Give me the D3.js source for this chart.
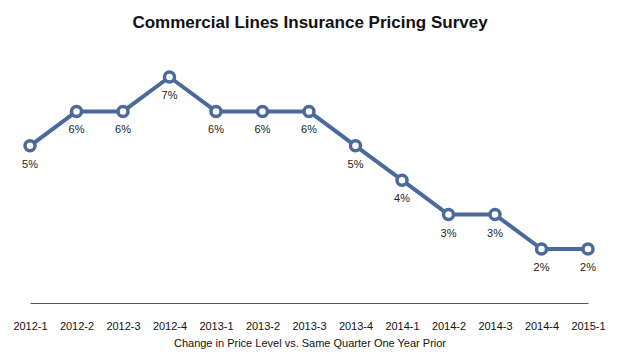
<!DOCTYPE html>
<html>
<head>
<meta charset="utf-8">
<script src="https://cdn.jsdelivr.net/npm/d3@7"></script>
<style>
  html, body { margin: 0; padding: 0; background: #fff; }
  svg { display: block; font-family: "Liberation Sans", Arial, Helvetica, sans-serif; }
</style>
</head>
<body>
<div id="chart"></div>
<script>
// Chart data
const quarters = ["2012-1", "2012-2", "2012-3", "2012-4", "2013-1", "2013-2", "2013-3",
                  "2013-4", "2014-1", "2014-2", "2014-3", "2014-4", "2015-1"];
const priceChange = [5, 6, 6, 7, 6, 6, 6, 5, 4, 3, 3, 2, 2];
const valueLabels = priceChange.map(d => `${d}%`);

const title = "Commercial Lines Insurance Pricing Survey";
const xTitle = "Change in Price Level vs. Same Quarter One Year Prior";

const width = 620, height = 352;
const lineColor = "#4b6a9b";
const axisY = 303;

const svg = d3.select("#chart")
  .append("svg")
  .attr("width", width)
  .attr("height", height);

const x = d3.scalePoint()
  .domain(quarters)
  .range([30, 588]);

const y = d3.scaleLinear()
  .domain([2, 7])
  .range([249, 77]);

svg.append("text")
  .attr("x", width / 2)
  .attr("y", 28)
  .attr("text-anchor", "middle")
  .style("font-size", "17px")
  .style("font-weight", "bold")
  .style("fill", "#111")
  .text(title);

// x axis
const xAxis = d3.axisBottom(x).tickSize(0).tickPadding(19);
const gx = svg.append("g")
  .attr("class", "x-axis")
  .attr("transform", `translate(0, ${axisY})`)
  .call(xAxis);
gx.select("path.domain").style("stroke", "#555").style("stroke-width", 1);
gx.selectAll("text")
  .style("font-size", "11px")
  .style("fill", "#111")
  .style("font-family", "\"Liberation Sans\", Arial, sans-serif");

svg.append("text")
  .attr("x", width / 2)
  .attr("y", 347)
  .attr("text-anchor", "middle")
  .style("font-size", "11px")
  .style("fill", "#111")
  .text(xTitle);

// line
const line = d3.line()
  .x((d, i) => x(quarters[i]))
  .y(d => y(d));

svg.append("path")
  .datum(priceChange)
  .attr("d", line)
  .attr("fill", "none")
  .attr("stroke", lineColor)
  .attr("stroke-width", 4)
  .attr("stroke-linejoin", "round");

svg.selectAll(".dot")
  .data(priceChange)
  .enter()
  .append("circle")
  .attr("class", "dot")
  .attr("cx", (d, i) => x(quarters[i]))
  .attr("cy", d => y(d))
  .attr("r", 5)
  .attr("fill", "#fff")
  .attr("stroke", lineColor)
  .attr("stroke-width", 3.5);

svg.selectAll(".val")
  .data(priceChange)
  .enter()
  .append("text")
  .attr("class", "val")
  .attr("x", (d, i) => x(quarters[i]))
  .attr("y", d => y(d) + 22)
  .attr("text-anchor", "middle")
  .style("font-size", "11px")
  .style("fill", "#222")
  .text((d, i) => valueLabels[i]);
</script>
</body>
</html>
